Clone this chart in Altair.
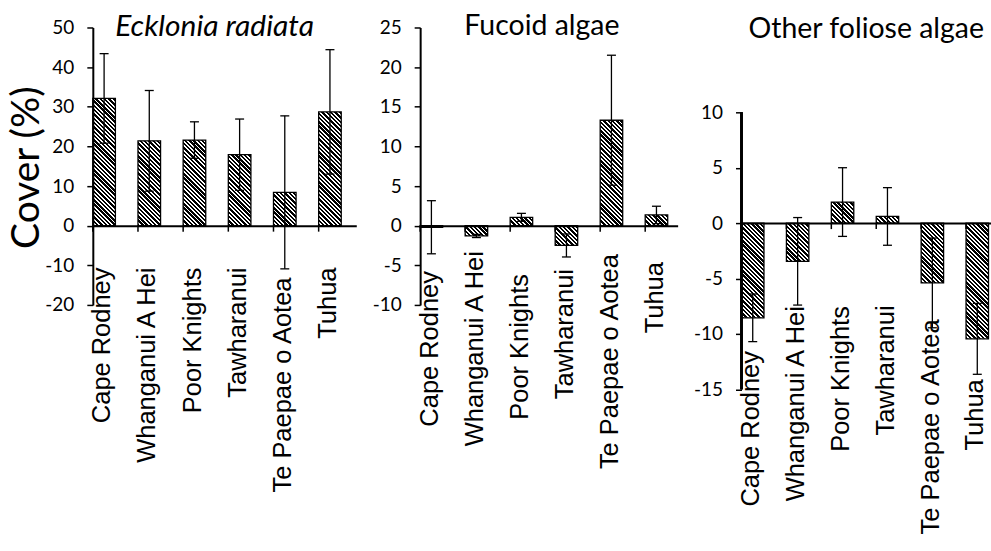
import altair as alt
import pandas as pd

# ---------------- data ----------------
sites = ["Cape Rodney", "Whanganui A Hei", "Poor Knights", "Tawharanui",
         "Te Paepae o Aotea", "Tuhua"]
panel_titles = ["Ecklonia radiata", "Fucoid algae", "Other foliose algae"]

ecklonia_mean = [32.1, 21.4, 21.6, 17.9, 8.4, 28.7]
ecklonia_err = [11.3, 12.7, 4.6, 9.0, 19.3, 15.7]
fucoid_mean = [-0.2, -1.3, 1.05, -2.5, 13.3, 1.35]
fucoid_err = [3.35, 0.2, 0.5, 1.45, 8.2, 1.1]
foliose_mean = [-8.55, -3.45, 1.9, 0.6, -5.4, -10.45]
foliose_err = [2.15, 3.95, 3.1, 2.6, 4.05, 3.2]

ecklonia_ticks = [-20, -10, 0, 10, 20, 30, 40, 50]
fucoid_ticks = [-10, -5, 0, 5, 10, 15, 20, 25]
foliose_ticks = [-15, -10, -5, 0, 5, 10]

y_title = "Cover (%)"

# ---------------- layout (pixels) ----------------
LABEL_FONT = "Liberation Sans"
NUM_FONT = "Lato"
BAR_FRAC = 0.5          # bar occupies the left half of each category slot


def hatch(w, h, period=4.3, black=0.56):
    """Diagonal (\\\\) black/white stripes as a bounding-box linear gradient."""
    h = max(h, 0.5)
    L = w + h
    k = L / (w * w + h * h)
    segs = [period * black, period * (1 - black)]
    cols = ["#000000", "#ffffff"]
    stops = [{"offset": 0, "color": cols[0]}]
    pos = 0.0
    i = 0
    cur = 0
    while True:
        pos += segs[i % 2]
        if pos >= L:
            break
        off = round(pos / L, 5)
        stops.append({"offset": off, "color": cols[cur]})
        cur = 1 - cur
        stops.append({"offset": off, "color": cols[cur]})
        i += 1
    stops.append({"offset": 1, "color": cols[cur]})
    return {"gradient": "linear", "x1": 0, "y1": 1,
            "x2": round(k * w, 5), "y2": round(1 - k * h, 5), "stops": stops}


def panel(title, means, errs, ticks, domain, band, width, height,
          title_style, title_size, title_x, title_y, label_pads,
          y_axis_title=None, full_domain_line=True):
    n = len(sites)
    idx = list(range(n))
    df = pd.DataFrame({
        "site": sites,
        "slot": idx,
        "x0": idx,
        "x1": [i + BAR_FRAC for i in idx],
        "xc": [i + BAR_FRAC / 2 for i in idx],
        "mean": means,
        "lo": [m - e for m, e in zip(means, errs)],
        "hi": [m + e for m, e in zip(means, errs)],
    })
    ppu = height / (domain[1] - domain[0])
    zero_from_bottom = (0 - domain[0]) * ppu

    site_list = "[" + ",".join(f"'{s}'" for s in sites) + "]"
    slot_of = f"round(datum.value - {BAR_FRAC / 2})"
    pad_expr = {
        "condition": [
            {"test": f"{slot_of} === {i}", "value": p}
            for i, p in zip(idx, label_pads)
        ],
        "value": 40,
    }
    x_scale = alt.Scale(domain=[0, width / band], nice=False, zero=False)
    x_axis = alt.Axis(
        title=None, orient="bottom", offset=-zero_from_bottom,
        values=[i + BAR_FRAC / 2 for i in idx],
        labelExpr=f"{site_list}[{slot_of}]",
        domain=True, domainColor="black", domainWidth=2,
        ticks=False, grid=False,
        labelAngle=-90, labelAlign="right", labelBaseline="middle",
        labelFont=LABEL_FONT, labelFontSize=25.5, labelColor="black",
        labelOffset=-2.3, labelPadding=pad_expr,
        labelOverlap=False, labelLimit=0, labelFlush=False, zindex=1,
    )

    def xq(field):
        return alt.X(field, type="quantitative", scale=x_scale, axis=x_axis)

    axis_kw = dict(
        values=ticks, grid=False, domain=full_domain_line,
        domainColor="black", domainWidth=2,
        tickColor="black", tickWidth=1.5, tickSize=6,
        labelFont=NUM_FONT, labelFontSize=19, labelColor="black",
        labelExpr="'' + datum.value",
        labelPadding=13, labelFlush=False, labelOverlap=False, zindex=1,
    )
    if y_axis_title:
        axis_kw.update(title=y_axis_title, titleFont=NUM_FONT,
                       titleFontSize=39, titleFontWeight="normal",
                       titleColor="black", titleAngle=270,
                       titleAlign="center", titleBaseline="bottom",
                       titleX=-46, titleY=140)
    else:
        axis_kw.update(title=None)
    y_axis = alt.Axis(**axis_kw)
    y_scale = alt.Scale(domain=domain, nice=False, zero=False)

    def yq(field):
        return alt.Y(field, type="quantitative", scale=y_scale, axis=y_axis)

    def yd(v):
        return alt.YDatum(v, type="quantitative", scale=y_scale, axis=y_axis)

    w = band * BAR_FRAC
    fill = {
        "condition": [
            {"test": f"datum.site === '{s}'", "value": hatch(w, abs(m) * ppu)}
            for s, m in zip(sites, means)
        ],
        "value": "#808080",
    }

    base = alt.Chart(df)
    bars = base.mark_bar(stroke="black", strokeWidth=1.3).encode(
        x=xq("x0"), x2=alt.X2("x1"), y=yq("mean"), y2=alt.Y2Datum(0),
        fill=fill)
    xticks = base.mark_rule(color="black", strokeWidth=1.5, y2Offset=6).encode(
        x=xq("slot"), y=yd(0), y2=alt.Y2Datum(0))
    err = base.mark_rule(color="black", strokeWidth=1.3).encode(
        x=xq("xc"), y=yq("lo"), y2=alt.Y2("hi"))
    cap_lo = base.mark_rule(color="black", strokeWidth=1.3,
                            xOffset=-4.5, x2Offset=4.5).encode(
        x=xq("xc"), x2=alt.X2("xc"), y=yq("lo"))
    cap_hi = base.mark_rule(color="black", strokeWidth=1.3,
                            xOffset=-4.5, x2Offset=4.5).encode(
        x=xq("xc"), x2=alt.X2("xc"), y=yq("hi"))
    ttl = alt.Chart(pd.DataFrame({"t": [title]})).mark_text(
        font=NUM_FONT, fontSize=title_size, fontStyle=title_style,
        fontWeight="normal", color="black", align="center",
        baseline="alphabetic",
    ).encode(text="t:N", x=alt.value(title_x), y=alt.value(title_y))
    layers = [bars, xticks, err, cap_lo, cap_hi]
    if not full_domain_line:
        yline = base.mark_rule(color="black", strokeWidth=2).encode(
            x=alt.value(0), y=yd(ticks[0]), y2=alt.Y2Datum(ticks[-1]))
        layers.append(yline)
    layers.append(ttl)

    return alt.layer(*layers).properties(width=width, height=height)


p1 = panel(panel_titles[0], ecklonia_mean, ecklonia_err, ecklonia_ticks,
           [-20, 50], 45.26, 264, 278, "italic", 30, 122, 9,
           [41.5, 41.5, 41.5, 41.5, 51.5, 41.5], y_axis_title=y_title)
p2 = panel(panel_titles[1], fucoid_mean, fucoid_err, fucoid_ticks,
           [-10, 25], 45.1, 258, 278, "normal", 28.5, 122, 8,
           [45, 25, 48, 43, 28, 36])
p3 = panel(panel_titles[2], foliose_mean, foliose_err, foliose_ticks,
           [-15, 17.66], 45.0, 250, 362.5, "normal", 28.5, 125, 11,
           [127.7, 82.7, 82.7, 82, 96, 156], full_domain_line=False)

chart = alt.hconcat(p1, p2, p3, spacing=64, bounds="flush").configure_view(
    stroke=None
).properties(
    padding={"left": 8, "top": 12, "right": 0, "bottom": 0},
    background="white",
)

chart.save("out.html", embed_options={"renderer": "svg", "actions": False})
